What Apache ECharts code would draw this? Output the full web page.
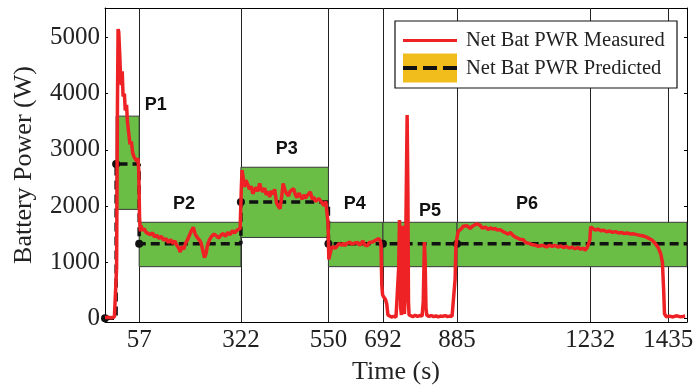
<!DOCTYPE html>
<html>
<head>
<meta charset="utf-8">
<title>Battery Power</title>
<script src="https://cdn.jsdelivr.net/npm/echarts@6/dist/echarts.min.js"></script>
<style>
  * { margin: 0; padding: 0; }
  body { background: #fff; }
  #main { width: 696px; height: 387px; }
</style>
</head>
<body>
<div id="main"></div>
<script>
// axis ticks
var timeTicks = [57, 322, 550, 692, 885, 1232, 1435];
var powerTicks = [0, 1000, 2000, 3000, 4000, 5000];

// prediction periods (boxes = predicted band)
var periodNames = ['P1', 'P2', 'P3', 'P4', 'P5', 'P6'];
var periodStart = [-3, 57, 322, 550, 692, 885];
var periodEnd = [57, 322, 550, 692, 885, 1484];
var bandLow = [1940, 920, 1440, 920, 920, 920];
var bandHigh = [3600, 1710, 2690, 1710, 1710, 1710];

// predicted power, step changes
var predTime = [-32, -3, 57, 322, 550, 692, 885, 1484];
var predPower = [0, 2750, 1330, 2070, 1330, 1330, 1330, 1330];

// measured power [time, W], read per period
var measuredP1 = [[-32, 15], [-24.5, 20], [-16.6, 10], [-7.5, 25], [-4, 40], [-1.8, 900], [0.4, 3800], [2.1, 5150],
  [3.8, 5100], [6.1, 4750], [8.3, 4350], [10.6, 4150], [12.9, 4400], [15.1, 3950], [18.5, 4000], [20.8, 3700],
  [24.2, 3800], [26.4, 3500], [29.8, 3300], [33.2, 3100], [36.6, 3150], [40, 2950], [43.4, 2880], [46.8, 2900],
  [50.2, 2800], [53.6, 2850], [55.9, 2650]];
var measuredP2 = [[58, 1800], [60, 1550], [62, 1650], [66, 1560], [70, 1600], [75, 1530], [80, 1560], [86, 1490],
  [92, 1520], [97, 1450], [103, 1480], [109, 1420], [115, 1460], [121, 1390], [127, 1420], [133, 1350], [139, 1400],
  [145, 1330], [150, 1380], [155, 1300], [160, 1250], [164, 1180], [168, 1280], [173, 1230], [178, 1340], [183, 1400],
  [188, 1480], [193, 1560], [198, 1620], [203, 1500], [208, 1440], [213, 1400], [218, 1350], [223, 1200], [227, 1080],
  [231, 1150], [235, 1300], [240, 1400], [246, 1460], [252, 1500], [258, 1470], [264, 1430], [270, 1480], [276, 1510],
  [282, 1460], [288, 1530], [294, 1490], [300, 1560], [306, 1520], [312, 1570], [317, 1540], [320, 1600]];
var measuredP3 = [[322, 1600], [323, 2300], [325, 2640], [328, 2500], [331, 2340], [335, 2460], [340, 2380], [344, 2300],
  [349, 2350], [353, 2220], [358, 2290], [362, 2330], [366, 2260], [371, 2400], [375, 2300], [379, 2250], [384, 2320],
  [388, 2200], [393, 2260], [397, 2160], [401, 2270], [406, 2210], [410, 2300], [415, 2050], [419, 2000], [424, 1950],
  [428, 2150], [432, 2400], [437, 2280], [441, 2220], [446, 2180], [450, 2260], [455, 2240], [459, 2310], [464, 2200],
  [468, 2150], [473, 2230], [477, 2180], [482, 2120], [486, 2200], [490, 2140], [494, 2180], [499, 2210], [503, 2250],
  [508, 2120], [512, 2160], [516, 2080], [521, 2050], [525, 2130], [530, 2090], [534, 2060], [538, 2010], [543, 2080],
  [547, 2100], [549, 1700]];
var measuredP4 = [[551, 1050], [553, 1060], [556, 1200], [560, 1280], [564, 1300], [568, 1250], [573, 1290], [577, 1330],
  [581, 1360], [585, 1300], [589, 1340], [593, 1290], [597, 1330], [602, 1310], [606, 1360], [610, 1320], [614, 1290],
  [618, 1340], [623, 1310], [627, 1350], [631, 1300], [635, 1330], [640, 1380], [644, 1310], [648, 1340], [652, 1290],
  [656, 1350], [661, 1320], [665, 1360], [669, 1330], [673, 1390], [677, 1370], [681, 1420], [685, 1380], [687, 1300],
  [689, 600], [691, 420]];
var measuredP5 = [[694, 380], [699, 330], [702, 250], [705, 60], [708, 30], [714, 25], [720, 35], [726, 20], [731, 40],
  [733, 900], [735, 1750], [736.5, 1500], [738, 200], [740, 60], [741.5, 800], [743, 1650], [744.5, 600], [746, 150],
  [748, 80], [750, 400], [752, 1800], [755, 3620], [757, 2200], [758.5, 300], [760, 60], [764, 40], [770, 30], [776, 55],
  [782, 35], [788, 50], [794, 40], [797, 300], [800, 1360], [802, 1000], [804, 200], [806, 60], [812, 35], [818, 50],
  [824, 30], [830, 45], [836, 25], [842, 40], [848, 35], [854, 50], [860, 30], [866, 40], [872, 35], [877, 60], [880, 700],
  [882, 1300], [884, 1400]];
var measuredP6 = [[886, 1420], [888, 1550], [892, 1580], [897, 1600], [901, 1640], [906, 1610], [910, 1650], [915, 1630],
  [920, 1600], [925, 1640], [930, 1620], [935, 1680], [940, 1650], [945, 1660], [950, 1610], [955, 1640], [960, 1620],
  [966, 1580], [972, 1610], [978, 1590], [984, 1600], [990, 1570], [996, 1580], [1001, 1560], [1006, 1540], [1012, 1520],
  [1018, 1500], [1024, 1530], [1030, 1480], [1036, 1450], [1042, 1430], [1048, 1410], [1053, 1390], [1058, 1400],
  [1062, 1360], [1068, 1340], [1075, 1330], [1082, 1310], [1090, 1300], [1097, 1280], [1105, 1300], [1112, 1290],
  [1118, 1270], [1126, 1300], [1133, 1280], [1140, 1300], [1148, 1270], [1155, 1290], [1162, 1260], [1170, 1280],
  [1177, 1250], [1184, 1270], [1192, 1240], [1200, 1260], [1207, 1230], [1214, 1250], [1219, 1210], [1224, 1260],
  [1228, 1230], [1231, 1400], [1233, 1630], [1238.6, 1600], [1245.2, 1570], [1251.8, 1590], [1259.5, 1560],
  [1267.2, 1570], [1274.8, 1540], [1282.5, 1555], [1290.2, 1530], [1297.9, 1545], [1305.6, 1520], [1313.3, 1530],
  [1321, 1510], [1328.7, 1520], [1337.5, 1500], [1345.2, 1505], [1352.9, 1490], [1360.5, 1480], [1368.2, 1470],
  [1377, 1450], [1385.8, 1420], [1393.5, 1390], [1401.2, 1330], [1408.9, 1260], [1415.5, 1150], [1419.9, 1000],
  [1423.2, 500], [1425.4, 80], [1429.8, 30], [1438.6, 40], [1447.3, 25], [1456.1, 45], [1464.9, 30], [1473.7, 35],
  [1479.2, 40]];

var measured = measuredP1.concat(measuredP2, measuredP3, measuredP4, measuredP5, measuredP6);

var chart = echarts.init(document.getElementById('main'));

var serif = '"Liberation Serif", "Times New Roman", serif';
var labelShift = [[28, 3], [-6, -4], [2, -4], [-1, -4], [10, 3], [-45, -4]];
var plain = function (v) { return String(v); };

var predicted = predTime.map(function (t, i) {
  var item = { value: [t, predPower[i]] };
  if (i === predTime.length - 1) item.symbol = 'none';
  return item;
});

var boxes = periodNames.map(function (name, i) {
  return [
    {
      name: name,
      xAxis: periodStart[i],
      yAxis: bandLow[i],
      label: { offset: labelShift[i] }
    },
    { xAxis: periodEnd[i], yAxis: bandHigh[i] }
  ];
});

function frameAxis(extra) {
  var base = {
    type: 'value',
    axisLine: { show: true, onZero: false, lineStyle: { color: '#000', width: 1 } },
    axisTick: { show: true, inside: true, length: 3, lineStyle: { color: '#000' } },
    splitLine: { show: false }
  };
  return Object.assign(base, extra);
}

var option = {
  animation: false,
  backgroundColor: '#fff',
  grid: { left: 105, right: 9, top: 8, bottom: 65, containLabel: false, outerBoundsMode: 'none' },
  xAxis: [
    frameAxis({
      min: -32,
      max: 1484,
      name: 'Time (s)',
      nameLocation: 'middle',
      nameGap: 37,
      nameTextStyle: { fontFamily: serif, fontSize: 26, color: '#222' },
      axisTick: { show: true, inside: true, length: 3, customValues: timeTicks, lineStyle: { color: '#000' } },
      axisLabel: { customValues: timeTicks, formatter: plain, fontFamily: serif, fontSize: 25, color: '#222', margin: 6 }
    }),
    frameAxis({
      position: 'top',
      min: -32,
      max: 1484,
      axisTick: { show: true, inside: true, length: 3, customValues: timeTicks, lineStyle: { color: '#000' } },
      axisLabel: { show: false }
    })
  ],
  yAxis: [
    frameAxis({
      min: -65,
      max: 5525,
      name: 'Battery Power (W)',
      nameLocation: 'middle',
      nameGap: 68,
      nameTextStyle: { fontFamily: serif, fontSize: 26, color: '#222' },
      axisTick: { show: true, inside: true, length: 3, customValues: powerTicks, lineStyle: { color: '#000' } },
      axisLabel: { customValues: powerTicks, formatter: plain, fontFamily: serif, fontSize: 25, color: '#222', margin: 5 }
    }),
    frameAxis({
      position: 'right',
      min: -65,
      max: 5525,
      axisTick: { show: true, inside: true, length: 3, customValues: powerTicks, lineStyle: { color: '#000' } },
      axisLabel: { show: false }
    })
  ],
  series: [
    {
      name: 'grid',
      type: 'line',
      data: [],
      z: 1,
      markLine: {
        z: 1,
        silent: true,
        symbol: ['none', 'none'],
        label: { show: false },
        lineStyle: { color: '#222', width: 1, type: 'solid' },
        data: timeTicks.map(function (t) { return { xAxis: t }; })
      }
    },
    {
      name: 'bands',
      type: 'line',
      data: [],
      z: 2,
      markArea: {
        z: 2,
        silent: true,
        itemStyle: { color: '#6abe45', borderColor: '#3a3a3a', borderWidth: 1 },
        label: {
          show: true,
          position: 'top',
          distance: 5,
          fontFamily: 'Liberation Sans, Arial, sans-serif',
          fontWeight: 'bold',
          fontSize: 18,
          color: '#111'
        },
        data: boxes
      }
    },
    {
      name: 'Net Bat PWR Predicted',
      type: 'line',
      step: 'end',
      z: 3,
      data: predicted,
      symbol: 'circle',
      symbolSize: 8,
      itemStyle: { color: '#111' },
      lineStyle: { color: '#111', width: 3.5, type: [9, 5] }
    },
    {
      name: 'Net Bat PWR Measured',
      type: 'line',
      z: 4,
      data: measured,
      showSymbol: false,
      lineStyle: { color: '#ee2224', width: 3.5 }
    }
  ],
  graphic: [
    { type: 'rect', z: 100, shape: { x: 395, y: 21, width: 282, height: 67 },
      style: { fill: '#fff', stroke: '#111', lineWidth: 1.2 } },
    { type: 'line', z: 101, shape: { x1: 403, y1: 40.5, x2: 457, y2: 40.5 },
      style: { stroke: '#ee2224', lineWidth: 3 } },
    { type: 'rect', z: 101, shape: { x: 403, y: 53.5, width: 54, height: 29 },
      style: { fill: '#f0bd1c' } },
    { type: 'line', z: 102, shape: { x1: 403, y1: 68, x2: 457, y2: 68 },
      style: { stroke: '#111', lineWidth: 4, lineDash: [14, 6] } },
    { type: 'text', z: 102, x: 466, y: 41,
      style: { text: 'Net Bat PWR Measured', font: '20.5px "Liberation Serif"', fill: '#222', verticalAlign: 'middle' } },
    { type: 'text', z: 102, x: 466, y: 69,
      style: { text: 'Net Bat PWR Predicted', font: '20.5px "Liberation Serif"', fill: '#222', verticalAlign: 'middle' } }
  ]
};

chart.setOption(option);
window.onresize = chart.resize;
</script>
</body>
</html>
